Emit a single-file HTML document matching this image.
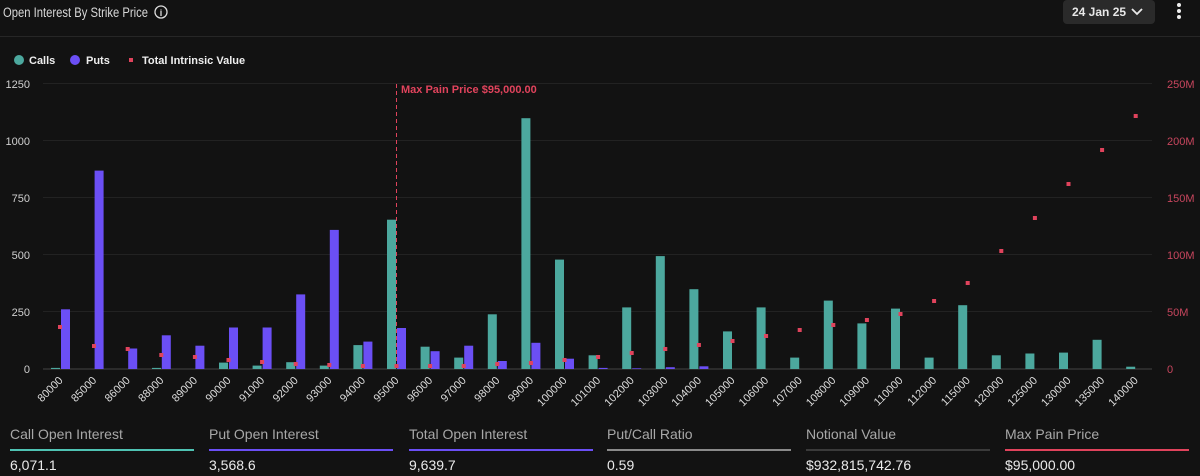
<!DOCTYPE html>
<html><head><meta charset="utf-8"><style>
body{margin:0;background:#121212;width:1200px;height:476px;overflow:hidden;font-family:"Liberation Sans",sans-serif;}
</style></head><body>
<svg width="1200" height="476" xmlns="http://www.w3.org/2000/svg" font-family="Liberation Sans, sans-serif" style="display:block">
<rect width="1200" height="476" fill="#121212"/>
<text x="3" y="17" fill="#d8d8d8" font-size="13.5" textLength="145" lengthAdjust="spacingAndGlyphs">Open Interest By Strike Price</text>
<circle cx="161" cy="12" r="6" fill="none" stroke="#ddd" stroke-width="1.3"/>
<text x="161" y="16" fill="#ddd" font-size="9" text-anchor="middle" font-weight="bold">i</text>
<rect x="1063" y="0" width="92" height="24" rx="4" fill="#2a2a2a"/>
<text x="1072" y="16" fill="#e8e8e8" font-size="12" font-weight="bold">24 Jan 25</text>
<path d="M1132 9 l5 5 l5 -5" stroke="#e8e8e8" stroke-width="1.8" fill="none"/>
<circle cx="1179" cy="5" r="2" fill="#eee"/><circle cx="1179" cy="11" r="2" fill="#eee"/><circle cx="1179" cy="17" r="2" fill="#eee"/>
<line x1="0" y1="36.5" x2="1200" y2="36.5" stroke="#262626"/>
<circle cx="19" cy="60" r="5" fill="#4ca89e"/><text x="29" y="64" fill="#eee" font-size="11" font-weight="bold">Calls</text>
<circle cx="75" cy="60" r="5" fill="#6b4ff5"/><text x="86" y="64" fill="#eee" font-size="11" font-weight="bold">Puts</text>
<rect x="129" y="58" width="4" height="4" fill="#e0435c"/><text x="142" y="64" fill="#eee" font-size="11" font-weight="bold">Total Intrinsic Value</text>
<g stroke="#222" stroke-width="1">
<line x1="43" y1="83.5" x2="1152" y2="83.5"/><line x1="43" y1="140.5" x2="1152" y2="140.5"/><line x1="43" y1="197.5" x2="1152" y2="197.5"/><line x1="43" y1="254.5" x2="1152" y2="254.5"/><line x1="43" y1="311.5" x2="1152" y2="311.5"/>
</g>
<line x1="43" y1="369" x2="1152" y2="369" stroke="#444"/>
<g fill="#cfcfcf" font-size="11" text-anchor="end">
<text x="30" y="88">1250</text><text x="30" y="145">1000</text><text x="30" y="202">750</text><text x="30" y="259">500</text><text x="30" y="316">250</text><text x="30" y="373">0</text>
</g>
<g fill="#c8465e" font-size="11">
<text x="1167" y="88">250M</text><text x="1167" y="145">200M</text><text x="1167" y="202">150M</text><text x="1167" y="259">100M</text><text x="1167" y="316">50M</text><text x="1167" y="373">0</text>
</g>
<g fill="#4ca89e">
<rect x="51" y="367.9" width="9" height="1.1"/>
<rect x="152" y="367.9" width="9" height="1.1"/>
<rect x="219" y="362.6" width="9" height="6.4"/>
<rect x="252.6" y="365.6" width="9" height="3.4"/>
<rect x="286.2" y="362.2" width="9" height="6.8"/>
<rect x="319.8" y="365.6" width="9" height="3.4"/>
<rect x="353.4" y="345.1" width="9" height="23.9"/>
<rect x="387" y="219.7" width="9" height="149.3"/>
<rect x="420.6" y="346.7" width="9" height="22.3"/>
<rect x="454.2" y="357.6" width="9" height="11.4"/>
<rect x="487.8" y="314.3" width="9" height="54.7"/>
<rect x="521.4" y="118.2" width="9" height="250.8"/>
<rect x="555" y="259.6" width="9" height="109.4"/>
<rect x="588.6" y="355.3" width="9" height="13.7"/>
<rect x="622.2" y="307.4" width="9" height="61.6"/>
<rect x="655.8" y="256.1" width="9" height="112.9"/>
<rect x="689.4" y="289.2" width="9" height="79.8"/>
<rect x="723" y="331.4" width="9" height="37.6"/>
<rect x="756.6" y="307.4" width="9" height="61.6"/>
<rect x="790.2" y="357.6" width="9" height="11.4"/>
<rect x="823.8" y="300.6" width="9" height="68.4"/>
<rect x="857.4" y="323.4" width="9" height="45.6"/>
<rect x="891" y="308.6" width="9" height="60.4"/>
<rect x="924.6" y="357.6" width="9" height="11.4"/>
<rect x="958.2" y="305.2" width="9" height="63.8"/>
<rect x="991.8" y="355.3" width="9" height="13.7"/>
<rect x="1025.4" y="353.5" width="9" height="15.5"/>
<rect x="1059" y="352.6" width="9" height="16.4"/>
<rect x="1092.6" y="339.8" width="9" height="29.2"/>
<rect x="1126.2" y="366.7" width="9" height="2.3"/>
</g>
<g fill="#6b4ff5">
<rect x="61" y="309.3" width="9" height="59.7"/>
<rect x="94.6" y="170.6" width="9" height="198.4"/>
<rect x="128.2" y="348.5" width="9" height="20.5"/>
<rect x="161.8" y="335.3" width="9" height="33.7"/>
<rect x="195.4" y="345.7" width="9" height="23.3"/>
<rect x="229" y="327.5" width="9" height="41.5"/>
<rect x="262.6" y="327.5" width="9" height="41.5"/>
<rect x="296.2" y="294.4" width="9" height="74.6"/>
<rect x="329.8" y="229.9" width="9" height="139.1"/>
<rect x="363.4" y="341.6" width="9" height="27.4"/>
<rect x="397" y="328" width="9" height="41"/>
<rect x="430.6" y="351.2" width="9" height="17.8"/>
<rect x="464.2" y="345.7" width="9" height="23.3"/>
<rect x="497.8" y="361" width="9" height="8"/>
<rect x="531.4" y="342.8" width="9" height="26.2"/>
<rect x="565" y="358.7" width="9" height="10.3"/>
<rect x="598.6" y="367.9" width="9" height="1.1"/>
<rect x="632.2" y="368.3" width="9" height="0.7"/>
<rect x="665.8" y="367.2" width="9" height="1.8"/>
<rect x="699.4" y="366.3" width="9" height="2.7"/>
</g>
<line x1="396.5" y1="84" x2="396.5" y2="369" stroke="#e0435c" stroke-width="1" stroke-dasharray="4,3"/>
<text x="401" y="93" fill="#e0435c" font-size="11" font-weight="bold">Max Pain Price $95,000.00</text>
<g fill="#e0435c">
<rect x="58" y="325" width="4" height="4"/><rect x="92" y="344" width="4" height="4"/><rect x="125.7" y="347" width="4" height="4"/><rect x="159.3" y="353" width="4" height="4"/><rect x="192.9" y="355" width="4" height="4"/><rect x="226.5" y="358" width="4" height="4"/><rect x="260.1" y="360" width="4" height="4"/><rect x="293.7" y="362" width="4" height="4"/><rect x="327.3" y="363" width="4" height="4"/><rect x="360.9" y="364" width="4" height="4"/><rect x="394.5" y="364" width="4" height="4"/><rect x="428.1" y="364" width="4" height="4"/><rect x="461.7" y="364" width="4" height="4"/><rect x="495.3" y="362" width="4" height="4"/><rect x="528.9" y="361" width="4" height="4"/><rect x="562.5" y="358" width="4" height="4"/><rect x="596.1" y="355" width="4" height="4"/><rect x="629.7" y="351" width="4" height="4"/><rect x="663.3" y="347" width="4" height="4"/><rect x="696.9" y="343" width="4" height="4"/><rect x="730.5" y="339" width="4" height="4"/><rect x="764.1" y="334" width="4" height="4"/><rect x="797.7" y="328" width="4" height="4"/><rect x="831.3" y="323" width="4" height="4"/><rect x="864.9" y="318" width="4" height="4"/><rect x="898.5" y="312" width="4" height="4"/><rect x="932.1" y="299" width="4" height="4"/><rect x="965.7" y="281" width="4" height="4"/><rect x="999.3" y="249" width="4" height="4"/><rect x="1032.9" y="216" width="4" height="4"/><rect x="1066.5" y="182" width="4" height="4"/><rect x="1100.1" y="148" width="4" height="4"/><rect x="1133.7" y="114" width="4" height="4"/>
</g>
<g fill="#dcdcdc" font-size="11" text-anchor="end">
<text transform="translate(63.5,381) rotate(-45)">80000</text>
<text transform="translate(97.1,381) rotate(-45)">85000</text>
<text transform="translate(130.7,381) rotate(-45)">86000</text>
<text transform="translate(164.3,381) rotate(-45)">88000</text>
<text transform="translate(197.9,381) rotate(-45)">89000</text>
<text transform="translate(231.5,381) rotate(-45)">90000</text>
<text transform="translate(265.1,381) rotate(-45)">91000</text>
<text transform="translate(298.7,381) rotate(-45)">92000</text>
<text transform="translate(332.3,381) rotate(-45)">93000</text>
<text transform="translate(365.9,381) rotate(-45)">94000</text>
<text transform="translate(399.5,381) rotate(-45)">95000</text>
<text transform="translate(433.1,381) rotate(-45)">96000</text>
<text transform="translate(466.7,381) rotate(-45)">97000</text>
<text transform="translate(500.3,381) rotate(-45)">98000</text>
<text transform="translate(533.9,381) rotate(-45)">99000</text>
<text transform="translate(567.5,381) rotate(-45)">100000</text>
<text transform="translate(601.1,381) rotate(-45)">101000</text>
<text transform="translate(634.7,381) rotate(-45)">102000</text>
<text transform="translate(668.3,381) rotate(-45)">103000</text>
<text transform="translate(701.9,381) rotate(-45)">104000</text>
<text transform="translate(735.5,381) rotate(-45)">105000</text>
<text transform="translate(769.1,381) rotate(-45)">106000</text>
<text transform="translate(802.7,381) rotate(-45)">107000</text>
<text transform="translate(836.3,381) rotate(-45)">108000</text>
<text transform="translate(869.9,381) rotate(-45)">109000</text>
<text transform="translate(903.5,381) rotate(-45)">110000</text>
<text transform="translate(937.1,381) rotate(-45)">112000</text>
<text transform="translate(970.7,381) rotate(-45)">115000</text>
<text transform="translate(1004.3,381) rotate(-45)">120000</text>
<text transform="translate(1037.9,381) rotate(-45)">125000</text>
<text transform="translate(1071.5,381) rotate(-45)">130000</text>
<text transform="translate(1105.1,381) rotate(-45)">135000</text>
<text transform="translate(1138.7,381) rotate(-45)">140000</text>
</g>
<g font-size="14" fill="#a8a8a8">
<text x="10" y="439">Call Open Interest</text>
<text x="209" y="439">Put Open Interest</text>
<text x="409" y="439">Total Open Interest</text>
<text x="607" y="439">Put/Call Ratio</text>
<text x="806" y="439">Notional Value</text>
<text x="1005" y="439">Max Pain Price</text>
</g>
<rect x="10" y="449" width="184" height="2" fill="#4fc3b3"/>
<rect x="209" y="449" width="184" height="2" fill="#6b4ff5"/>
<rect x="409" y="449" width="184" height="2" fill="#6b4ff5"/>
<rect x="607" y="449" width="184" height="2" fill="#8a8a8a"/>
<rect x="806" y="449" width="184" height="2" fill="#3a3a3a"/>
<rect x="1005" y="449" width="184" height="2" fill="#e0435c"/>
<g font-size="14" fill="#eaeaea">
<text x="10" y="470">6,071.1</text>
<text x="209" y="470">3,568.6</text>
<text x="409" y="470">9,639.7</text>
<text x="607" y="470">0.59</text>
<text x="806" y="470">$932,815,742.76</text>
<text x="1005" y="470">$95,000.00</text>
</g>
</svg>
</body></html>
